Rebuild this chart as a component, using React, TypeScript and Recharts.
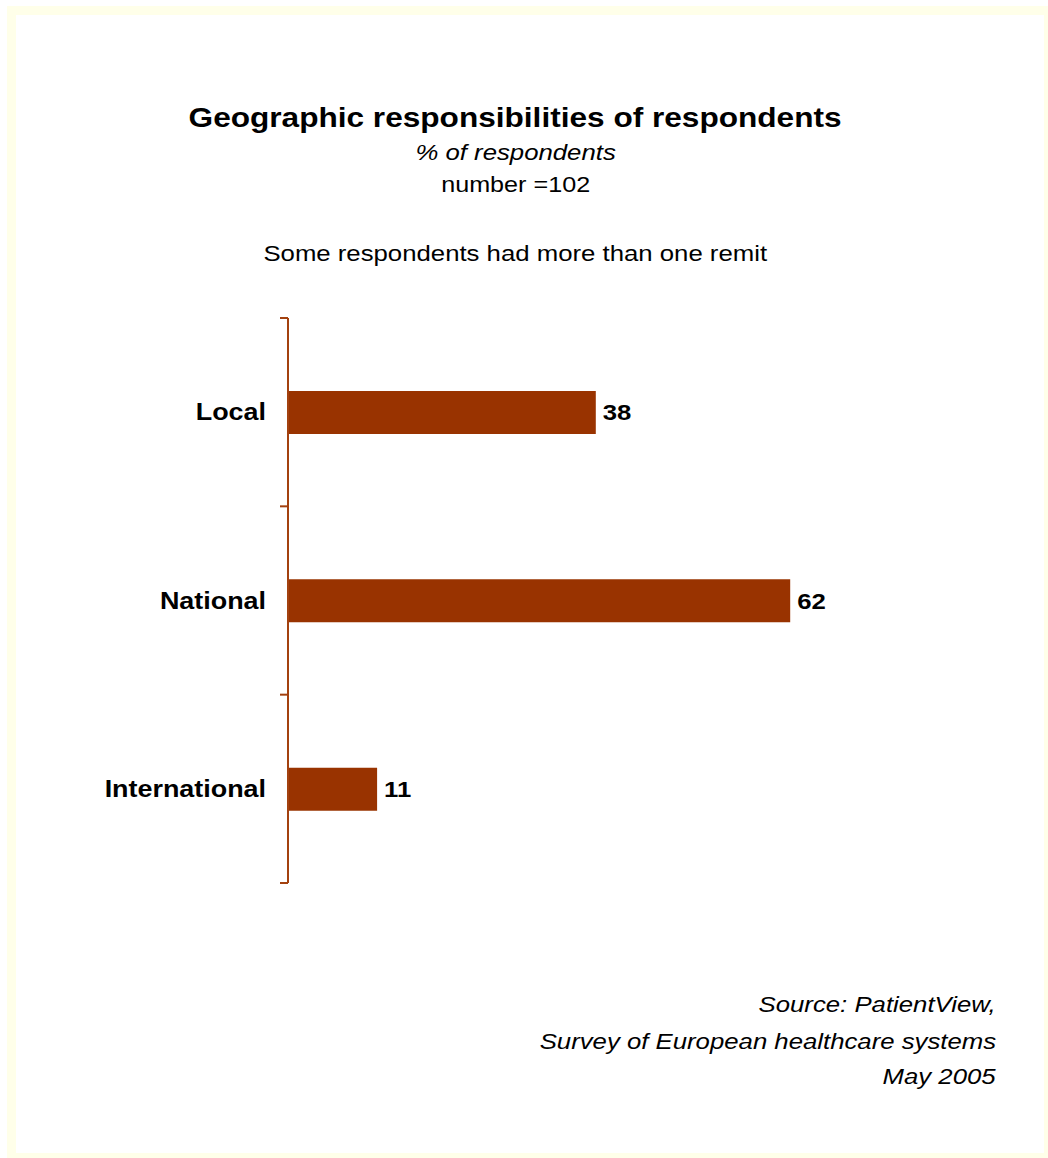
import React from 'react'
import { BarChart, Bar, XAxis, YAxis, LabelList } from 'recharts'

const categories = ['Local', 'National', 'International']
const values = [38, 62, 11]
const titleText = 'Geographic responsibilities of respondents'
const subTitle = '% of respondents'
const sampleText = 'number =102'
const noteText = 'Some respondents had more than one remit'
const sourceLines = ['Source: PatientView,', 'Survey of European healthcare systems', 'May 2005']

const data = categories.map((name, i) => ({ name, value: values[i] }))

const W = 1048
const H = 1158
const M = { top: 318, right: 31, bottom: 275, left: 0 }
const BROWN = '#993300'
const AXIS = '#A3410F'
const FONT = '"Liberation Sans", Arial, sans-serif'
const SX = 1.17
const band = (H - M.top - M.bottom) / categories.length

function CatTick({ x, y, payload, index }: any) {
  const ax = x + 22
  return (
    <g>
      <line x1={ax - 8} x2={ax} y1={y - band / 2} y2={y - band / 2} stroke={AXIS} strokeWidth={2} />
      {index === categories.length - 1 && (
        <line x1={ax - 8} x2={ax} y1={y + band / 2} y2={y + band / 2} stroke={AXIS} strokeWidth={2} />
      )}
      <g transform={`translate(${x},${y}) scale(${SX},1)`}>
        <text x={0} y={0} dy="0.36em" textAnchor="end" fontFamily={FONT} fontWeight="bold" fontSize={23} fill="#000">
          {payload.value}
        </text>
      </g>
    </g>
  )
}

function ValueLabel({ x, y, width, height, value }: any) {
  return (
    <g transform={`translate(${x + width + 7},${y + height / 2}) scale(${SX},1)`}>
      <text x={0} y={0} dy="0.36em" textAnchor="start" fontFamily={FONT} fontWeight="bold" fontSize={22} fill="#000">
        {value}
      </text>
    </g>
  )
}

function Line({ text, y, size, bold, italic, align = 'center' }: any) {
  const style: React.CSSProperties = {
    position: 'absolute',
    top: y - size / 2,
    lineHeight: `${size}px`,
    fontSize: size,
    fontFamily: FONT,
    fontWeight: bold ? 'bold' : 'normal',
    fontStyle: italic ? 'italic' : 'normal',
    whiteSpace: 'nowrap',
    textAlign: align,
    color: '#000',
  }
  if (align === 'center') { style.left = 0; style.width = 1031 }
  else { style.right = 52 }
  return (
    <div style={style}>
      <span style={{ display: 'inline-block', transform: `scaleX(${SX})`, transformOrigin: align === 'center' ? 'center' : 'right' }}>
        {text}
      </span>
    </div>
  )
}

export default function App() {
  return (
    <div style={{ position: 'relative', width: W, height: H, overflow: 'hidden', background: '#fff' }}>
      <style>{'body{margin:0;overflow:hidden}'}</style>
      <div style={{ position: 'absolute', left: 7, top: 6, width: 1046, height: 1156, boxSizing: 'border-box', border: '9px solid #FFFFE9' }} />
      <Line text={titleText} y={118} size={27} bold />
      <Line text={subTitle} y={153} size={22} italic />
      <Line text={sampleText} y={186} size={21.5} />
      <Line text={noteText} y={254} size={22} />
      {sourceLines.map((t, i) => (
        <Line key={t} text={t} y={[1005, 1042, 1077][i]} size={22} italic align="right" />
      ))}
      <div style={{ position: 'absolute', left: 0, top: 0 }}>
        <BarChart width={W} height={H} data={data} layout="vertical" margin={M}>
          <XAxis type="number" domain={[0, 90]} hide />
          <YAxis
            type="category"
            dataKey="name"
            width={288}
            axisLine={{ stroke: AXIS, strokeWidth: 2 }}
            tickLine={false}
            tickSize={0}
            tickMargin={22}
            tick={<CatTick />}
            interval={0}
          />
          <Bar dataKey="value" fill={BROWN} barSize={43} isAnimationActive={false}>
            <LabelList dataKey="value" content={<ValueLabel />} />
          </Bar>
        </BarChart>
      </div>
    </div>
  )
}
